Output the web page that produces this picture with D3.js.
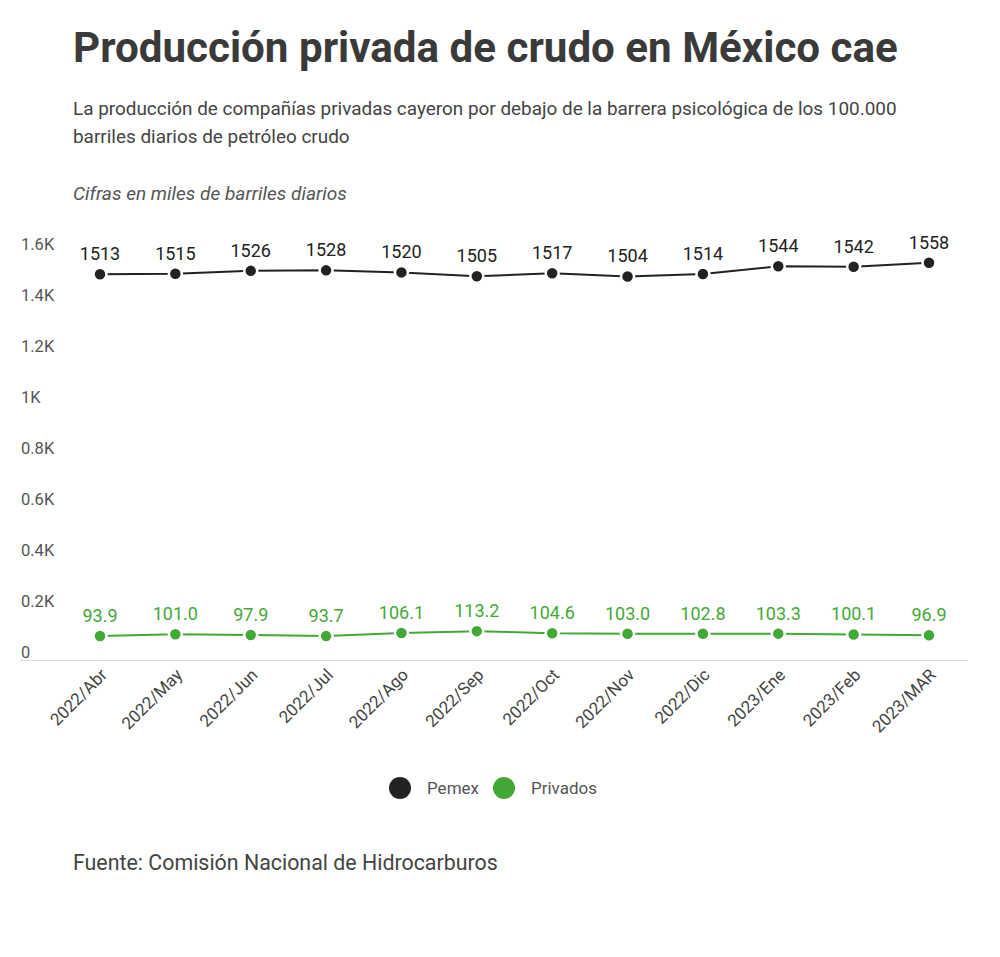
<!DOCTYPE html>
<html>
<head>
<meta charset="utf-8">
<script src="https://cdn.jsdelivr.net/npm/d3@7"></script>
<style>
  body { margin: 0; background: #fff; font-family: Roboto, "Noto Sans", sans-serif; }
  .title { font-size: 42px; font-weight: 700; fill: #3a3a3a; }
  .subtitle { font-size: 19px; fill: #444; }
  .note { font-size: 18px; font-style: italic; fill: #555; }
  .ytick { font-size: 16.5px; fill: #555; }
  .xtick { font-size: 17px; fill: #444; }
  .value { font-size: 18px; }
  .legend { font-size: 17px; fill: #555; }
  .source { font-size: 20px; fill: #444; }
</style>
</head>
<body>
<div id="chart"></div>
<script>
const MONTHS = ["2022/Abr", "2022/May", "2022/Jun", "2022/Jul", "2022/Ago", "2022/Sep",
  "2022/Oct", "2022/Nov", "2022/Dic", "2023/Ene", "2023/Feb", "2023/MAR"];
const PEMEX = [1513, 1515, 1526, 1528, 1520, 1505, 1517, 1504, 1514, 1544, 1542, 1558];
const PRIVADOS = [93.9, 101.0, 97.9, 93.7, 106.1, 113.2, 104.6, 103.0, 102.8, 103.3, 100.1, 96.9];
const Y_TICKS = [0, 200, 400, 600, 800, 1000, 1200, 1400, 1600];
const Y_TICK_LABELS = ["0", "0.2K", "0.4K", "0.6K", "0.8K", "1K", "1.2K", "1.4K", "1.6K"];

const SERIES = [
  { name: "Pemex", values: PEMEX, color: "#222222", fmt: (d) => d3.format("d")(d) },
  { name: "Privados", values: PRIVADOS, color: "#43a936", fmt: (d) => d3.format(".1f")(d) },
];

const WIDTH = 1000;
const HEIGHT = 957;

const svg = d3.select("#chart")
  .append("svg")
  .attr("width", WIDTH)
  .attr("height", HEIGHT);

// scale a text's font so it spans the width measured on the reference
function fitWidth(sel, target) {
  const node = sel.node();
  const size = parseFloat(getComputedStyle(node).fontSize);
  const len = node.getComputedTextLength();
  const fitted = size * target / len;
  sel.style("font-size", fitted + "px");
  return fitted;
}

// header
const title = svg.append("text").attr("class", "title").attr("x", 73).attr("y", 62)
  .text("Producción privada de crudo en México cae");
fitWidth(title, 825);

const sub1 = svg.append("text").attr("class", "subtitle").attr("x", 73).attr("y", 115)
  .text("La producción de compañías privadas cayeron por debajo de la barrera psicológica de los 100.000");
const subSize = fitWidth(sub1, 824);
svg.append("text").attr("class", "subtitle").attr("x", 73).attr("y", 143)
  .style("font-size", subSize + "px")
  .text("barriles diarios de petróleo crudo");

const note = svg.append("text").attr("class", "note").attr("x", 73).attr("y", 200)
  .text("Cifras en miles de barriles diarios");
fitWidth(note, 274);

const X_SCALE = d3.scalePoint().domain(MONTHS).range([100, 929]);
const Y_SCALE = d3.scaleLinear().domain([0, 1600]).range([660, 252]);

// y labels (sit on their gridline position, no gridlines drawn)
svg.selectAll(".ytick")
  .data(Y_TICKS)
  .enter()
  .append("text")
  .attr("class", "ytick")
  .attr("x", 21)
  .attr("y", (d) => Y_SCALE(d) - 2)
  .text((d, i) => Y_TICK_LABELS[i]);

// baseline
svg.append("line")
  .attr("x1", 20).attr("x2", 968)
  .attr("y1", Y_SCALE(0) + 0.5).attr("y2", Y_SCALE(0) + 0.5)
  .attr("stroke", "#d9d9d9")
  .attr("stroke-width", 1);

// x labels
svg.selectAll(".xtick")
  .data(MONTHS)
  .enter()
  .append("text")
  .attr("class", "xtick")
  .attr("text-anchor", "end")
  .attr("transform", (d) => "translate(" + (X_SCALE(d) + 8) + "," + 676 + ") rotate(-45)")
  .text((d) => d);

const line = d3.line()
  .x((d, i) => X_SCALE(MONTHS[i]))
  .y((d) => Y_SCALE(d));

SERIES.forEach((s) => {
  const g = svg.append("g");
  g.append("path")
    .datum(s.values)
    .attr("d", line)
    .attr("fill", "none")
    .attr("stroke", s.color)
    .attr("stroke-width", 2);

  g.selectAll("circle")
    .data(s.values)
    .enter()
    .append("circle")
    .attr("cx", (d, i) => X_SCALE(MONTHS[i]))
    .attr("cy", (d) => Y_SCALE(d))
    .attr("r", 6.5)
    .attr("fill", s.color)
    .attr("stroke", "#fff")
    .attr("stroke-width", 2.5);

  g.selectAll(".value")
    .data(s.values)
    .enter()
    .append("text")
    .attr("class", "value")
    .attr("text-anchor", "middle")
    .attr("x", (d, i) => X_SCALE(MONTHS[i]))
    .attr("y", (d) => Y_SCALE(d) - 14)
    .attr("fill", s.color)
    .text((d) => s.fmt(d));
});

// legend
const legend = svg.append("g").attr("transform", "translate(400,788)");
const LEGEND_X = [0, 104];
SERIES.forEach((s, i) => {
  legend.append("circle").attr("cx", LEGEND_X[i]).attr("cy", 0).attr("r", 11).attr("fill", s.color);
  legend.append("text").attr("class", "legend")
    .attr("x", LEGEND_X[i] + 27).attr("y", 6)
    .text(s.name);
});

const source = svg.append("text").attr("class", "source").attr("x", 73).attr("y", 870)
  .text("Fuente: Comisión Nacional de Hidrocarburos");
fitWidth(source, 425);
</script>
</body>
</html>
